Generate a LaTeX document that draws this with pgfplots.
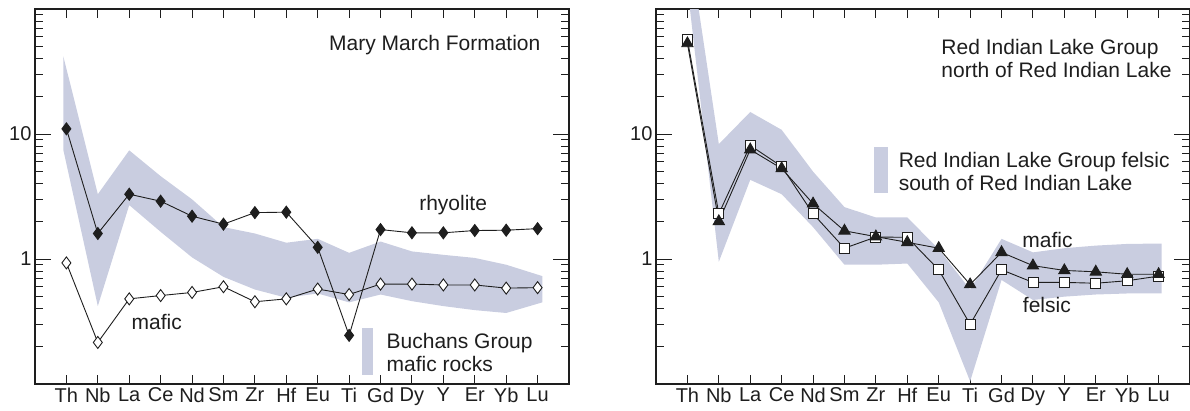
\documentclass[border=0pt]{standalone}
\usepackage{fontspec}
\setmainfont{Liberation Sans}
\usepackage{pgfplots}
\pgfplotsset{compat=1.18}

\definecolor{bandc}{RGB}{201,205,224}
\definecolor{inkc}{RGB}{30,30,30}

\tikzset{note/.style={font=\fontsize{21}{23}\selectfont, text=inkc}}
% label only the decades 1 and 10 (\tick holds ln of the value)
\newcommand\declabel{\pgfmathparse{int(round(exp(\tick)))}%
  \ifnum\pgfmathresult=1 1\else\ifnum\pgfmathresult=10 10\fi\fi}

\begin{document}
\begin{tikzpicture}

% left: Mary March Formation
\begin{axis}[
  at={(35pt,26pt)}, anchor=south west,
  scale only axis, width=534pt, height=375pt,
  ymode=log, ymin=0.1, ymax=100, xmin=-1, xmax=16,
  xtick={0,...,15},
  xticklabels={Th,Nb,La,Ce,Nd,Sm,Zr,Hf,Eu,Ti,Gd,Dy,Y,Er,Yb,Lu},
  yticklabel={\declabel},
  major tick length=16pt, minor tick length=8pt,
  xtick style={/pgfplots/major tick length=9pt},
  tick style={line width=1pt, color=inkc},
  axis line style={line width=1.4pt, color=inkc},
  tick label style={font=\fontsize{20}{24}\selectfont, text=inkc},
  xtick pos=both, ytick pos=both,
  xticklabel pos=lower, yticklabel pos=left,
]
% Buchans Group mafic rocks (upper edge, then lower edge back)
\addplot[fill=bandc, draw=none] coordinates {
  (-0.1,42) (1,3.3) (2,7.4) (3,4.6) (4,3.0) (5,1.8) (6,1.6) (7,1.35)
  (8,1.45) (9,1.12) (10,1.38) (11,1.15) (12,1.08) (13,1.02) (14,0.9) (15.15,0.73)
  (15.15,0.45) (14,0.37) (13,0.39) (12,0.42) (11,0.46) (10,0.52) (9,0.45) (8,0.53)
  (7,0.49) (6,0.57) (5,0.72) (4,1.03) (3,1.65) (2,2.7) (1,0.42) (-0.1,7.5)
};
% rhyolite
\addplot[color=inkc, line width=0.9pt, mark=diamond*, mark size=6pt, mark options={fill=inkc}] coordinates {
  (0,11) (1,1.6) (2,3.3) (3,2.9) (4,2.2) (5,1.9) (6,2.35) (7,2.37)
  (8,1.24) (9,0.245) (10,1.72) (11,1.62) (12,1.62) (13,1.69) (14,1.7) (15,1.75)
};
% mafic
\addplot[color=inkc, line width=0.9pt, mark=diamond*, mark size=6pt, mark options={fill=white}] coordinates {
  (0,0.93) (1,0.215) (2,0.48) (3,0.51) (4,0.54) (5,0.6) (6,0.455) (7,0.48)
  (8,0.575) (9,0.52) (10,0.63) (11,0.63) (12,0.62) (13,0.62) (14,0.585) (15,0.59)
};
\node[note, anchor=east] at (rel axis cs:0.953,0.905) {Mary March Formation};
\node[note] at (rel axis cs:0.783,0.478) {rhyolite};
\node[note] at (rel axis cs:0.228,0.165) {mafic};
\fill[bandc] (rel axis cs:0.612,0.024) rectangle (rel axis cs:0.633,0.149);
\node[note, anchor=west, align=left] at (rel axis cs:0.652,0.085) {Buchans Group\\mafic rocks};
\end{axis}

% right: Red Indian Lake Group
\begin{axis}[
  at={(656pt,26pt)}, anchor=south west,
  scale only axis, width=534pt, height=375pt,
  ymode=log, ymin=0.1, ymax=100, xmin=-1, xmax=16,
  xtick={0,...,15},
  xticklabels={Th,Nb,La,Ce,Nd,Sm,Zr,Hf,Eu,Ti,Gd,Dy,Y,Er,Yb,Lu},
  yticklabel={\declabel},
  major tick length=16pt, minor tick length=8pt,
  xtick style={/pgfplots/major tick length=9pt},
  tick style={line width=1pt, color=inkc},
  axis line style={line width=1.4pt, color=inkc},
  tick label style={font=\fontsize{20}{24}\selectfont, text=inkc},
  xtick pos=both, ytick pos=both,
  xticklabel pos=lower, yticklabel pos=left,
]
% Red Indian Lake Group felsic, south of Red Indian Lake
\addplot[fill=bandc, draw=none] coordinates {
  (0,400) (1,8.3) (2,15) (3,10.8) (4,5.0) (5,2.6) (6,2.15) (7,2.15)
  (8,1.2) (9,0.57) (10,1.45) (11,1.13) (12,1.22) (13,1.28) (14,1.32) (15.1,1.33)
  (15.1,0.53) (14,0.53) (13,0.52) (12,0.5) (11,0.47) (10,0.68) (9,0.105) (8,0.45)
  (7,0.92) (6,0.9) (5,0.9) (4,1.8) (3,3.3) (2,4.3) (1,0.95) (0,150)
};
% felsic
\addplot[color=inkc, line width=0.9pt, mark=square*, mark size=5pt, mark options={fill=white}] coordinates {
  (0,57) (1,2.3) (2,8.1) (3,5.5) (4,2.3) (5,1.22) (6,1.5) (7,1.49)
  (8,0.82) (9,0.3) (10,0.82) (11,0.65) (12,0.65) (13,0.64) (14,0.67) (15,0.73)
};
% mafic
\addplot[color=inkc, line width=0.9pt, mark=triangle*, mark size=6.5pt, mark options={fill=inkc}] coordinates {
  (0,53) (1,2.0) (2,7.5) (3,5.3) (4,2.77) (5,1.68) (6,1.51) (7,1.36)
  (8,1.22) (9,0.625) (10,1.13) (11,0.885) (12,0.81) (13,0.79) (14,0.755) (15,0.755)
};
\node[note, anchor=west, align=left] at (rel axis cs:0.528,0.868) {Red Indian Lake Group\\north of Red Indian Lake};
\fill[bandc] (rel axis cs:0.408,0.509) rectangle (rel axis cs:0.434,0.632);
\node[note, anchor=west, align=left] at (rel axis cs:0.448,0.567) {Red Indian Lake Group felsic\\south of Red Indian Lake};
\node[note] at (rel axis cs:0.733,0.384) {mafic};
\node[note] at (rel axis cs:0.732,0.211) {felsic};
\end{axis}

\pgfresetboundingbox
\path (0,0) rectangle (1190pt,410pt);
\end{tikzpicture}
\end{document}
